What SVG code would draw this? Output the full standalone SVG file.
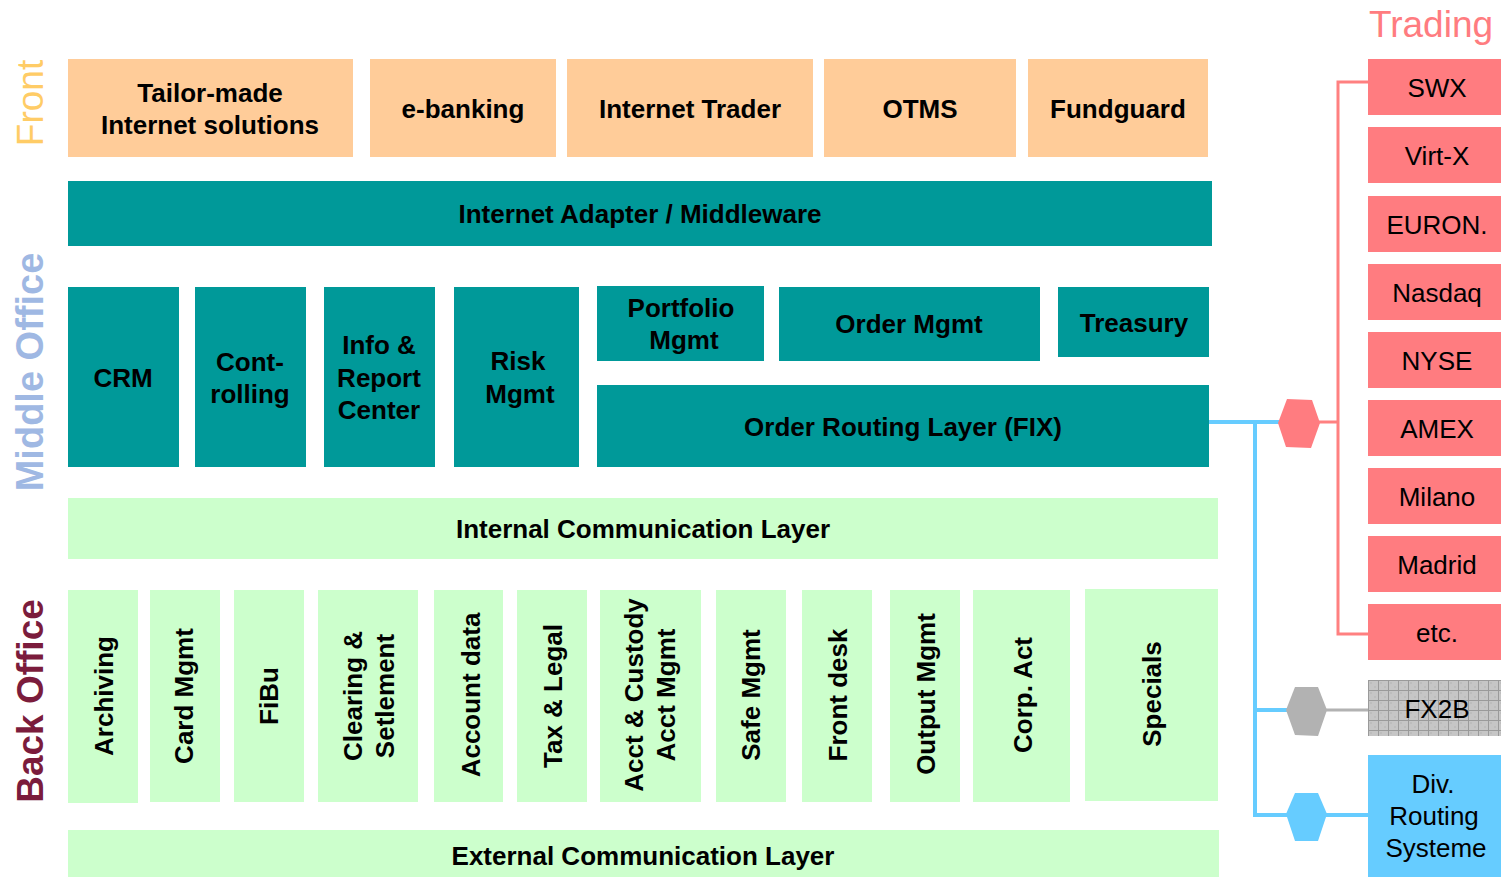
<svg xmlns="http://www.w3.org/2000/svg" width="1501" height="877" viewBox="0 0 1501 877">
  <style>
    text { font-family: "Liberation Sans", Arial, sans-serif; font-size: 26px; fill: #000; text-anchor: middle; }
    .b { font-weight: bold; }
    .front { fill: #FFCC99; }
    .teal { fill: #009999; }
    .green { fill: #CCFFCC; }
    .exch { fill: #FF7C80; }
    .div { fill: #66CCFF; }
    .side { font-size: 37px; }
    .wire { fill: none; stroke-linecap: square; }
    .red { stroke: #FF8080; stroke-width: 3; }
    .blue { stroke: #66CCFF; stroke-width: 4; }
    .grey { stroke: #B2B2B2; stroke-width: 3; }
  </style>
  <defs>
    <pattern id="grid" width="10" height="10" patternUnits="userSpaceOnUse" x="1368" y="680">
      <rect width="10" height="10" fill="#C6C6C6"/>
      <rect x="2" y="2" width="2" height="2" fill="#BDBDBD"/>
      <rect x="6" y="6" width="2" height="2" fill="#BDBDBD"/>
      <path d="M0 0.5H10M0.5 0V10" stroke="#9A9A9A" stroke-width="1"/>
    </pattern>
  </defs>
  <rect width="1501" height="877" fill="#fff"/>

  <!-- Section labels -->
  <g id="labels">
    <text class="side" transform="translate(43,103) rotate(-90)" style="fill:#FFCC66">Front</text>
    <text class="side b" transform="translate(43,372) rotate(-90)" style="fill:#9FB8E3;font-size:38px">Middle Office</text>
    <text class="side b" transform="translate(43,701) rotate(-90)" style="fill:#7B1C3C">Back Office</text>
    <text class="side" x="1431" y="37" style="fill:#FF7C80">Trading</text>
  </g>

  <!-- Connectors -->
  <g id="connectors">
    <path class="wire blue" d="M1209 422H1280M1255 422V815H1288M1255 710H1288"/>
    <path class="wire grey" d="M1325 710H1368"/>
    <path class="wire blue" d="M1325 815H1368"/>
    <path class="wire red" d="M1318 422H1338M1368 82H1338V634H1368"/>
    <polygon points="1278,423 1287,399 1312,400 1320,423 1311,448 1286,447" fill="#FF7C80"/>
    <polygon points="1286,710 1295,687 1318,687 1327,710 1318,736 1295,735" fill="#B2B2B2"/>
    <polygon points="1286,814 1295,793 1318,793 1327,814 1318,841 1295,841" fill="#66CCFF"/>
  </g>

  <!-- Front office -->
  <g id="tailor-made"><rect class="front" x="68" y="59" width="285" height="98"/><text class="b" x="210" y="102">Tailor-made</text><text class="b" x="210" y="134">Internet solutions</text></g>
  <g id="e-banking"><rect class="front" x="370" y="59" width="186" height="98"/><text class="b" x="463" y="118">e-banking</text></g>
  <g id="internet-trader"><rect class="front" x="567" y="59" width="246" height="98"/><text class="b" x="690" y="118">Internet Trader</text></g>
  <g id="otms"><rect class="front" x="824" y="59" width="192" height="98"/><text class="b" x="920" y="118">OTMS</text></g>
  <g id="fundguard"><rect class="front" x="1028" y="59" width="180" height="98"/><text class="b" x="1118" y="118">Fundguard</text></g>

  <g id="internet-adapter"><rect class="teal" x="68" y="181" width="1144" height="65"/><text class="b" x="640" y="223">Internet Adapter / Middleware</text></g>

  <!-- Middle office -->
  <g id="crm"><rect class="teal" x="68" y="287" width="111" height="180"/><text class="b" x="123" y="387">CRM</text></g>
  <g id="controlling"><rect class="teal" x="195" y="287" width="111" height="180"/><text class="b" x="250" y="371">Cont-</text><text class="b" x="250" y="403">rolling</text></g>
  <g id="info-report"><rect class="teal" x="324" y="287" width="111" height="180"/><text class="b" x="379" y="354">Info &amp;</text><text class="b" x="379" y="387">Report</text><text class="b" x="379" y="419">Center</text></g>
  <g id="risk-mgmt"><rect class="teal" x="454" y="287" width="125" height="180"/><text class="b" x="518" y="370">Risk</text><text class="b" x="520" y="403">Mgmt</text></g>
  <g id="portfolio-mgmt"><rect class="teal" x="597" y="286" width="167" height="75"/><text class="b" x="681" y="317">Portfolio</text><text class="b" x="684" y="349">Mgmt</text></g>
  <g id="order-mgmt"><rect class="teal" x="779" y="287" width="261" height="74"/><text class="b" x="909" y="333">Order Mgmt</text></g>
  <g id="treasury"><rect class="teal" x="1058" y="287" width="151" height="70"/><text class="b" x="1134" y="332">Treasury</text></g>
  <g id="order-routing"><rect class="teal" x="597" y="385" width="612" height="82"/><text class="b" x="903" y="436">Order Routing Layer (FIX)</text></g>

  <g id="internal-comm"><rect class="green" x="68" y="498" width="1150" height="61"/><text class="b" x="643" y="538">Internal Communication Layer</text></g>

  <!-- Back office -->
  <g id="archiving"><rect class="green" x="68" y="590" width="70" height="213"/><text class="b" transform="translate(113,696) rotate(-90)">Archiving</text></g>
  <g id="card-mgmt"><rect class="green" x="150" y="590" width="70" height="212"/><text class="b" transform="translate(193,696) rotate(-90)">Card Mgmt</text></g>
  <g id="fibu"><rect class="green" x="234" y="590" width="70" height="212"/><text class="b" transform="translate(278,696) rotate(-90)">FiBu</text></g>
  <g id="clearing"><rect class="green" x="318" y="590" width="100" height="212"/><text class="b" transform="translate(362,696) rotate(-90)">Clearing &amp;</text><text class="b" transform="translate(394,696) rotate(-90)">Setlement</text></g>
  <g id="account-data"><rect class="green" x="434" y="590" width="69" height="212"/><text class="b" transform="translate(480,695) rotate(-90)">Account data</text></g>
  <g id="tax-legal"><rect class="green" x="517" y="590" width="70" height="212"/><text class="b" transform="translate(562,696) rotate(-90)">Tax &amp; Legal</text></g>
  <g id="custody"><rect class="green" x="600" y="590" width="101" height="212"/><text class="b" transform="translate(643,695) rotate(-90)">Acct &amp; Custody</text><text class="b" transform="translate(675,695) rotate(-90)">Acct Mgmt</text></g>
  <g id="safe-mgmt"><rect class="green" x="716" y="590" width="70" height="212"/><text class="b" transform="translate(760,695) rotate(-90)">Safe Mgmt</text></g>
  <g id="front-desk"><rect class="green" x="802" y="590" width="70" height="212"/><text class="b" transform="translate(847,695) rotate(-90)">Front desk</text></g>
  <g id="output-mgmt"><rect class="green" x="890" y="590" width="70" height="212"/><text class="b" transform="translate(935,694) rotate(-90)">Output Mgmt</text></g>
  <g id="corp-act"><rect class="green" x="973" y="590" width="97" height="212"/><text class="b" transform="translate(1032,695) rotate(-90)">Corp. Act</text></g>
  <g id="specials"><rect class="green" x="1085" y="589" width="133" height="212"/><text class="b" transform="translate(1161,694) rotate(-90)">Specials</text></g>

  <g id="external-comm"><rect class="green" x="68" y="830" width="1151" height="47"/><text class="b" x="643" y="865">External Communication Layer</text></g>

  <!-- Exchanges -->
  <g id="swx"><rect class="exch" x="1368" y="59" width="133" height="56"/><text x="1437" y="97">SWX</text></g>
  <g id="virt-x"><rect class="exch" x="1368" y="127" width="133" height="56"/><text x="1437" y="165">Virt-X</text></g>
  <g id="euronext"><rect class="exch" x="1368" y="196" width="133" height="56"/><text x="1437" y="234">EURON.</text></g>
  <g id="nasdaq"><rect class="exch" x="1368" y="264" width="133" height="56"/><text x="1437" y="302">Nasdaq</text></g>
  <g id="nyse"><rect class="exch" x="1368" y="332" width="133" height="56"/><text x="1437" y="370">NYSE</text></g>
  <g id="amex"><rect class="exch" x="1368" y="400" width="133" height="56"/><text x="1437" y="438">AMEX</text></g>
  <g id="milano"><rect class="exch" x="1368" y="468" width="133" height="56"/><text x="1437" y="506">Milano</text></g>
  <g id="madrid"><rect class="exch" x="1368" y="536" width="133" height="56"/><text x="1437" y="574">Madrid</text></g>
  <g id="etc"><rect class="exch" x="1368" y="604" width="133" height="56"/><text x="1437" y="642">etc.</text></g>
  <g id="fx2b"><rect x="1368" y="680" width="133" height="56" fill="url(#grid)"/><text x="1437" y="718">FX2B</text></g>
  <g id="div-routing"><rect class="div" x="1368" y="755" width="133" height="122"/><text x="1433" y="793">Div.</text><text x="1434" y="825">Routing</text><text x="1436" y="857">Systeme</text></g>
</svg>
